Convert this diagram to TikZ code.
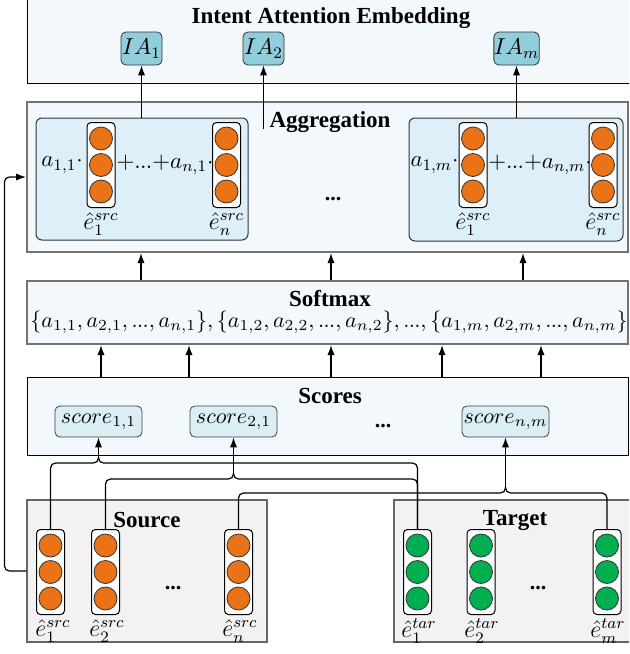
\documentclass[tikz,border=0pt]{standalone}
\usepackage{fix-cm}
\usepackage[no-math]{fontspec}
\setmainfont{Liberation Serif}
\usetikzlibrary{arrows.meta,calc,fit}

\definecolor{panelbg}{HTML}{F2F8FB}
\definecolor{innerbg}{HTML}{DDEFF8}
\definecolor{iafill}{HTML}{92CDDC}
\definecolor{scorefill}{HTML}{DAEEF3}
\definecolor{greybg}{HTML}{F2F2F2}
\definecolor{orangedot}{HTML}{E97316}
\definecolor{greendot}{HTML}{00B050}

% tight baseline ellipsis
\newcommand\tdots{.\mkern-0.5mu.\mkern-0.5mu.}

\tikzset{
  panel/.style={draw=black, fill=panelbg, line width=0.5pt, inner sep=0pt},
  greypanel/.style={draw=black!55, fill=panelbg, line width=1pt, inner sep=0pt},
  embpanel/.style={draw=black!60, fill=greybg, line width=0.6pt, inner sep=0pt},
  innerbox/.style={draw=black!80, fill=innerbg, rounded corners=3pt, line width=0.5pt, inner sep=0pt},
  title/.style={font=\fontsize{11.5}{13}\selectfont\bfseries, inner sep=0pt},
  mtxt/.style={font=\fontsize{11.5}{13}\selectfont, inner sep=0pt},
  lbl/.style={font=\fontsize{12}{13}\selectfont, inner sep=0pt},
  iabox/.style={draw=black!80, fill=iafill, rounded corners=2.5pt, minimum width=20.5pt,
    minimum height=16.5pt, inner sep=0pt, font=\fontsize{11.5}{13}\selectfont},
  scorebox/.style={draw=black!75, fill=scorefill, rounded corners=2.5pt, minimum width=43.5pt,
    minimum height=15.5pt, inner sep=0pt, font=\fontsize{11}{12}\selectfont},
  vecbox/.style={draw=black, fill=white, rounded corners=2pt, minimum width=14pt,
    minimum height=42.5pt, inner sep=0pt, line width=0.5pt},
  dotnode/.style={circle, draw=black!80, line width=0.4pt, minimum size=11.5pt, inner sep=0pt},
  arr/.style={-{Latex[length=5pt,width=3.6pt]}, line width=0.6pt},
  wire/.style={line width=0.6pt, rounded corners=2.5pt},
  ellip/.style={font=\fontsize{11}{12}\selectfont\bfseries, inner sep=0pt}
}

% a vector: white rounded column holding three coloured dots
\newcommand\veccol[4]{%
  \node[vecbox] (#1) at (#2,#3) {};
  \foreach \d in {-1,0,1}
    \node[dotnode, fill=#4] at ($(#1)+(0,\d*26.5)$) {};
}

\begin{document}
\begin{tikzpicture}[x=0.5pt,y=-0.5pt]
\clip (0,0) rectangle (629,654);

% ---------- Intent Attention Embedding ----------
\node[panel, fit={(27,-10) (640,83)}] (emb) {};
\node[title] (embt) at (331,18) {Intent Attention Embedding};
\node[iabox] (ia1) at (141.5,48.5) {$IA_1$};
\node[iabox] (ia2) at (263.5,48.5) {$IA_2$};
\node[iabox] (iam) at (516.5,48.5) {$IA_m$};

% ---------- Aggregation ----------
\node[greypanel, fit={(27,102) (628,252)}] (agg) {};
\node[innerbox, fit={(36,118) (248,240)}] (sum1) {};
\node[innerbox, fit={(409,118) (623,241)}] (summ) {};
\node[title] (aggt) at (330,122) {Aggregation};

\node[mtxt] (c11) at (62,165) {$a_{1,1}{\cdot}$};
\veccol{ga1}{101}{165}{orangedot}
\node[mtxt] (p1) at (165,165) {${+}\tdots{+}a_{n,1}{\cdot}$};
\veccol{gan}{226.5}{165}{orangedot}
\node[lbl] (lga1) at (101,224) {$\hat{e}_1^{src}$};
\node[lbl] (lgan) at (226.5,224) {$\hat{e}_n^{src}$};

\node[mtxt] (c1m) at (434.5,165) {$a_{1,m}{\cdot}$};
\veccol{gb1}{473}{165}{orangedot}
\node[mtxt] (pm) at (540,165) {${+}\tdots{+}a_{n,m}{\cdot}$};
\veccol{gbn}{603}{165}{orangedot}
\node[lbl] (lgb1) at (473,224) {$\hat{e}_1^{src}$};
\node[lbl] (lgbn) at (603,224) {$\hat{e}_n^{src}$};

\node[ellip] (aggdots) at (333,199) {...};

\coordinate (ia2tail) at (263.5,129);
\draw[arr] (sum1.north -| ia1) -- (ia1.south);
\draw[arr] (ia2tail) -- (ia2.south);
\draw[arr] (summ.north -| iam) -- (iam.south);

% ---------- Softmax ----------
\node[greypanel, fit={(27,281) (628,344)}] (sm) {};
\node[title] (smt) at (330,299) {Softmax};
\node[mtxt, font=\fontsize{11}{12}\selectfont] (smf) at (329,322)
  {$\{a_{1,1},a_{2,1},\tdots,a_{n,1}\},\{a_{1,2},a_{2,2},\tdots,a_{n,2}\},\tdots,\{a_{1,m},a_{2,m},\tdots,a_{n,m}\}$};

\foreach \x in {141,331,523} {
  \coordinate (ux) at (\x,0);
  \draw[arr] (sm.north -| ux) -- (agg.south -| ux);
}

% ---------- Scores ----------
\node[panel, fit={(27,377) (628,455)}] (sc) {};
\node[title] (sct) at (330,396) {Scores};
\node[scorebox] (s11) at (98.5,421.5) {$score_{1,1}$};
\node[scorebox] (s21) at (233.5,421.5) {$score_{2,1}$};
\node[ellip] (scdots) at (383,426) {...};
\node[scorebox] (snm) at (505.5,421.5) {$score_{n,m}$};

\foreach \x in {101,189,331,442,541} {
  \coordinate (vx) at (\x,0);
  \draw[arr] (sc.north -| vx) -- (sm.south -| vx);
}

% ---------- Source ----------
\node[embpanel, fit={(27,500) (267,642)}] (src) {};
\node[title] (srct) at (147,520) {Source};
\veccol{e1}{50.5}{572}{orangedot}
\veccol{e2}{105.5}{572}{orangedot}
\veccol{en}{238.5}{572}{orangedot}
\node[ellip] (srcdots) at (173,588) {...};
\node[lbl] (le1) at (53,631) {$\hat{e}_1^{src}$};
\node[lbl] (le2) at (107,631) {$\hat{e}_2^{src}$};
\node[lbl] (len) at (240,631) {$\hat{e}_n^{src}$};

% ---------- Target ----------
\node[embpanel, fit={(394,500) (640,642)}] (tar) {};
\node[title] (tart) at (515,520) {Target};
\veccol{t1}{417.5}{572}{greendot}
\veccol{t2}{481}{572}{greendot}
\veccol{tm}{607}{572}{greendot}
\node[ellip] (tardots) at (538,588) {...};
\node[lbl] (lt1) at (419,631) {$\hat{e}_1^{tar}$};
\node[lbl] (lt2) at (482,631) {$\hat{e}_2^{tar}$};
\node[lbl] (ltm) at (608,631) {$\hat{e}_m^{tar}$};

% ---------- pairwise connectors into the scores ----------
\coordinate (j11) at (98.5,463);
\coordinate (j21) at (233.5,479);
\coordinate (jnm) at (505.5,493);

\draw[wire] (e1.north) |- (j11) -- ++(0,-6);
\draw[wire] (t1.north) |- (j11) -- ++(0,-6);
\draw[arr] ($(j11)+(0,-6)$) -- (s11.south);

\draw[wire] (e2.north) |- (j21) -- ++(0,-6);
\draw[wire] (t1.north) |- (j21) -- ++(0,-6);
\draw[arr] ($(j21)+(0,-6)$) -- (s21.south);

\draw[wire] (en.north) |- (jnm) -- ++(0,-6);
\draw[wire] (tm.north) |- (jnm) -- ++(0,-6);
\draw[arr] ($(jnm)+(0,-6)$) -- (snm.south);

% ---------- source embeddings fed to the aggregation ----------
\draw[arr, rounded corners=2.5pt] (src.west) -- ++(-22,0) |- (agg.west);
\end{tikzpicture}
\end{document}
